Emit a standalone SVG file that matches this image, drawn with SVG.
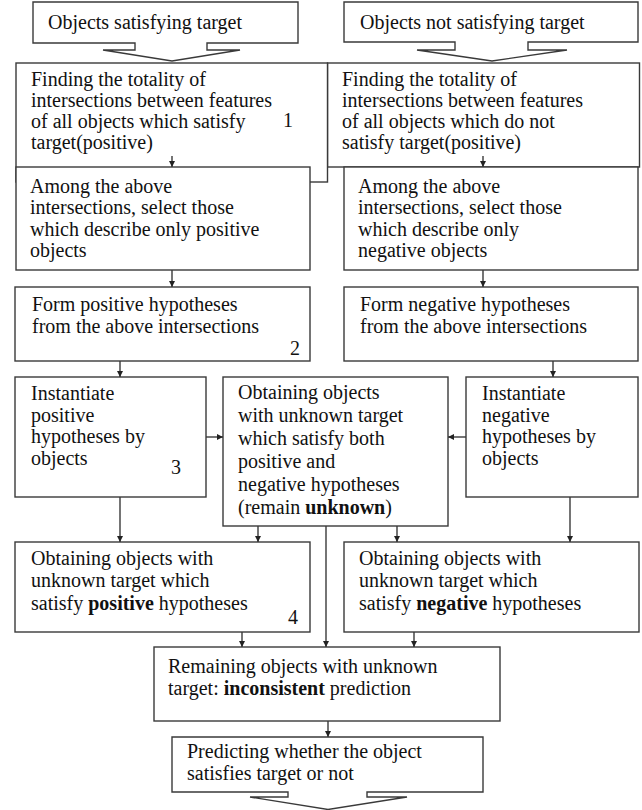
<svg xmlns="http://www.w3.org/2000/svg" width="642" height="810" viewBox="0 0 642 810">
<style>
.box{fill:#fff;stroke:#3a3a3a;stroke-width:1.4}
.c{fill:none;stroke:#3a3a3a;stroke-width:1.4}
</style>
<defs>
<marker id="ah" markerUnits="userSpaceOnUse" markerWidth="7" markerHeight="7" refX="6" refY="3" orient="auto">
<path d="M0,0 L6,3 L0,6 z" fill="#222"/>
</marker>
</defs>
<rect width="642" height="810" fill="#fff"/>
<g font-family="Liberation Serif" font-size="20" fill="#111">
<g id="n-pos-objects">
<path class="box" d="M33,2 H298 V43 H207 V50 H240 L172,61 L103,50 H135 V43 H33 Z"/>
<text x="48" y="29">Objects satisfying target</text>
</g>
<g id="n-neg-objects">
<path class="box" d="M344,2 H638 V42 H528 V50 H567 L492,61 L417,50 H455 V42 H344 Z"/>
<text x="360" y="29">Objects not satisfying target</text>
</g>

<g id="n-neg-find">
<rect class="box" x="327.5" y="63" width="312" height="104"/>
<text x="342" y="86">Finding the totality of</text>
<text x="342" y="107">intersections between features</text>
<text x="342" y="128">of all objects which do not</text>
<text x="342" y="149">satisfy target(positive)</text>
</g>
<g id="n-pos-find">
<rect class="box" x="16" y="63" width="311.5" height="119"/>
<text x="31" y="86">Finding the totality of</text>
<text x="31" y="107">intersections between features</text>
<text x="31" y="128">of all objects which satisfy</text>
<text x="283" y="127">1</text>
<text x="31" y="149">target(positive)</text>
</g>
<g id="n-pos-select">
<rect class="box" x="16" y="167" width="294" height="103"/>
<text x="30" y="193">Among the above</text>
<text x="30" y="214">intersections, select those</text>
<text x="30" y="236">which describe only positive</text>
<text x="30" y="257">objects</text>
</g>
<g id="n-neg-select">
<rect class="box" x="344" y="167" width="294" height="103"/>
<text x="358" y="193">Among the above</text>
<text x="358" y="214">intersections, select those</text>
<text x="358" y="236">which describe only</text>
<text x="358" y="257">negative objects</text>
</g>

<g id="n-pos-form">
<rect class="box" x="15" y="287" width="295" height="74"/>
<text x="32" y="311">Form positive hypotheses</text>
<text x="32" y="333">from the above intersections</text>
<text x="290" y="355">2</text>
</g>
<g id="n-neg-form">
<rect class="box" x="344" y="287" width="294" height="74"/>
<text x="360" y="311">Form negative hypotheses</text>
<text x="360" y="333">from the above intersections</text>
</g>

<g id="n-pos-inst">
<rect class="box" x="15" y="377" width="191" height="120"/>
<text x="31" y="400">Instantiate</text>
<text x="31" y="422">positive</text>
<text x="31" y="443">hypotheses by</text>
<text x="31" y="465">objects</text>
<text x="171" y="474">3</text>
</g>
<g id="n-both">
<rect class="box" x="223" y="377" width="225" height="149"/>
<text x="238" y="399">Obtaining objects</text>
<text x="238" y="422">with unknown target</text>
<text x="238" y="445">which satisfy both</text>
<text x="238" y="468">positive and</text>
<text x="238" y="491">negative hypotheses</text>
<text x="238" y="514">(remain <tspan font-weight="bold">unknown</tspan>)</text>
</g>
<g id="n-neg-inst">
<rect class="box" x="466" y="377" width="172" height="120"/>
<text x="482" y="400">Instantiate</text>
<text x="482" y="422">negative</text>
<text x="482" y="443">hypotheses by</text>
<text x="482" y="465">objects</text>
</g>

<g id="n-pos-obtain">
<rect class="box" x="15" y="542" width="295" height="90"/>
<text x="31" y="565">Obtaining objects with</text>
<text x="31" y="587">unknown target which</text>
<text x="31" y="610">satisfy <tspan font-weight="bold">positive</tspan> hypotheses</text>
<text x="288" y="624">4</text>
</g>
<g id="n-neg-obtain">
<rect class="box" x="344" y="542" width="295" height="90"/>
<text x="359" y="565">Obtaining objects with</text>
<text x="359" y="587">unknown target which</text>
<text x="359" y="610">satisfy <tspan font-weight="bold">negative</tspan> hypotheses</text>
</g>

<g id="n-remaining">
<rect class="box" x="154" y="647" width="346" height="74"/>
<text x="168" y="673">Remaining objects with unknown</text>
<text x="168" y="695">target: <tspan font-weight="bold">inconsistent</tspan> prediction</text>
</g>
<g id="n-predict">
<path class="box" d="M172,737 H483 V792 H367 V797 H407 L328,809.5 L250,797 H288 V792 H172 Z"/>
<text x="187" y="758">Predicting whether the object</text>
<text x="187" y="780">satisfies target or not</text>
</g>
</g>
<g id="connectors">
<path class="c" marker-end="url(#ah)" d="M172,156 V167"/>
<path class="c" marker-end="url(#ah)" d="M483,156 V167"/>
<path class="c" marker-end="url(#ah)" d="M172,270 V287"/>
<path class="c" marker-end="url(#ah)" d="M483,270 V287"/>
<path class="c" marker-end="url(#ah)" d="M120,361 V377"/>
<path class="c" marker-end="url(#ah)" d="M553,361 V377"/>
<path class="c" marker-end="url(#ah)" d="M206,437 H223"/>
<path class="c" marker-end="url(#ah)" d="M466,437 H448"/>
<path class="c" marker-end="url(#ah)" d="M120,497 V542"/>
<path class="c" marker-end="url(#ah)" d="M258,526 V542"/>
<path class="c" marker-end="url(#ah)" d="M397,526 V542"/>
<path class="c" marker-end="url(#ah)" d="M570,497 V542"/>
<path class="c" marker-end="url(#ah)" d="M326,526 V647"/>
<path class="c" marker-end="url(#ah)" d="M242,632 V647"/>
<path class="c" marker-end="url(#ah)" d="M414,632 V647"/>
<path class="c" marker-end="url(#ah)" d="M328,721 V737"/>
</g>
</svg>
